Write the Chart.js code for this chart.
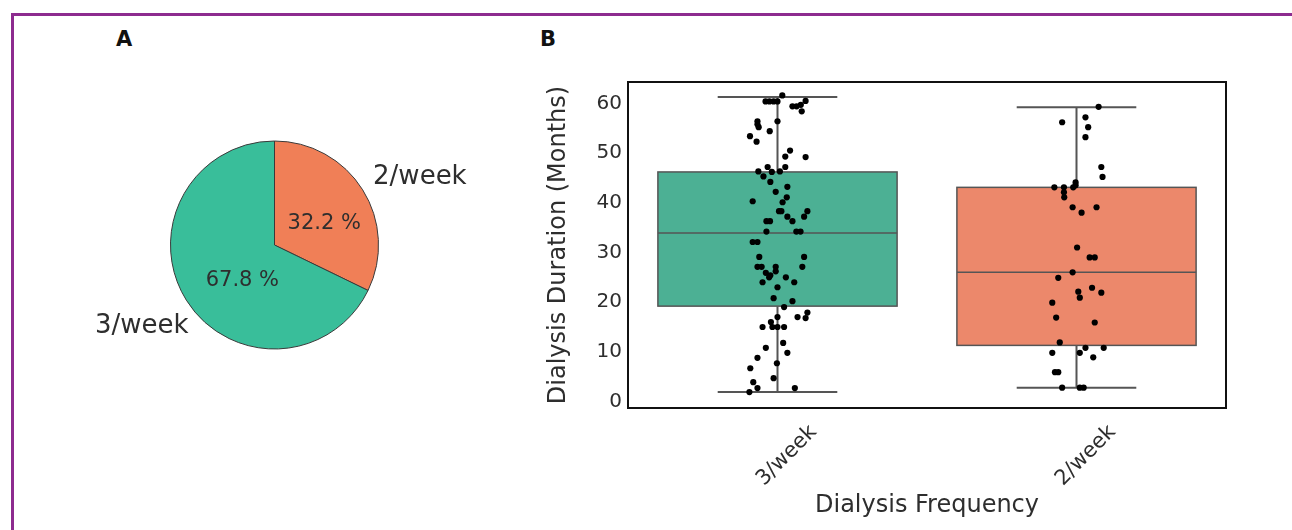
<!DOCTYPE html>
<html>
<head>
<meta charset="utf-8">
<script src="https://cdn.jsdelivr.net/npm/chart.js@4.4.1/dist/chart.umd.min.js"></script>
<style>
  html, body { margin: 0; padding: 0; background: #fff; }
  body { width: 1292px; height: 530px; position: relative; overflow: hidden; font-family: "DejaVu Sans", sans-serif; }
  .frame { position: absolute; left: 11px; top: 13px; width: 1400px; height: 700px; border-left: 3px solid #8d2b8f; border-top: 3px solid #8d2b8f; }
  .panel { position: absolute; font-weight: bold; font-size: 21px; line-height: 1; color: #111; }
  #pieWrap { position: absolute; left: 60px; top: 100px; width: 440px; height: 290px; }
  #boxWrap { position: absolute; left: 540px; top: 60px; width: 710px; height: 470px; }
</style>
</head>
<body>
<div class="frame"></div>
<div class="panel" style="left:116px; top:29px;">A</div>
<div class="panel" style="left:540px; top:29px;">B</div>
<div id="pieWrap"><canvas id="pieChart"></canvas></div>
<div id="boxWrap"><canvas id="boxChart"></canvas></div>

<script>
// --- data ---
const categories = ["3/week", "2/week"];

// pie shares (drawn clockwise from 12 o'clock)
const pieLabels = ["2/week", "3/week"];
const pieShares = [32.2, 67.8];

// box statistics per category (months)
const boxQ1 = [19.2, 11.3];
const boxMedian = [33.9, 26.0];
const boxQ3 = [46.2, 43.1];
const whiskerLow = [1.9, 2.8];
const whiskerHigh = [61.3, 59.2];

// individual patients: duration and horizontal jitter (category units)
const dur3 = [61.6, 60.4, 60.4, 60.4, 60.4, 59.4, 59.4, 59.7, 60.5, 58.4,
  56.4, 55.8, 55.2, 56.4, 54.4, 53.4, 52.3, 50.5, 49.3, 49.2,
  47.2, 47.2, 46.3, 45.3, 46.2, 46.3, 44.2, 43.2, 42.2, 41.1,
  40.3, 40.1, 38.3, 38.3, 38.3, 37.2, 37.2, 36.3, 36.3, 36.3,
  34.2, 34.2, 34.2, 32.1, 32.1, 29.1, 29.1, 27.1, 27.1, 27.1,
  27.1, 25.9, 25.4, 26.2, 25.0, 25.0, 24.0, 24.0, 23.0, 20.8,
  20.2, 19.0, 17.0, 17.0, 17.9, 16.8, 15.0, 16.0, 15.0, 15.0,
  15.0, 11.8, 10.8, 9.8, 8.8, 7.7, 6.7, 4.7, 3.9, 2.7, 2.7, 1.9];
const jit3 = [0.016, -0.040, -0.027, -0.013, 0.000, 0.050, 0.064, 0.078, 0.094, 0.081,
  -0.067, -0.067, -0.063, 0.000, -0.026, -0.092, -0.070, 0.042, 0.026, 0.094,
  -0.033, 0.026, -0.064, -0.047, -0.019, 0.008, -0.024, 0.033, -0.006, 0.031,
  -0.083, 0.017, 0.005, 0.013, 0.100, 0.033, 0.089, -0.037, -0.025, 0.050,
  -0.037, 0.063, 0.077, -0.083, -0.067, -0.061, 0.089, -0.067, -0.053, -0.006,
  0.083, -0.039, -0.024, -0.006, -0.028, 0.028, -0.050, 0.056, 0.000, -0.013,
  0.050, 0.022, 0.000, 0.067, 0.100, 0.094, -0.050, -0.022, -0.017, 0.000,
  0.022, 0.019, -0.039, 0.033, -0.067, -0.002, -0.091, -0.013, -0.081, -0.067, 0.058, -0.094];

const dur2 = [59.3, 56.2, 57.2, 55.2, 53.2, 47.2, 45.2, 44.1, 43.5, 43.1,
  43.1, 42.1, 41.1, 43.1, 39.1, 38.0, 39.1, 31.0, 29.0, 29.0,
  26.0, 24.9, 22.9, 21.9, 22.1, 20.9, 19.9, 16.9, 15.9, 11.9,
  9.8, 9.8, 10.8, 10.8, 8.9, 5.9, 5.9, 2.8, 2.8, 2.8];
const jit2 = [0.074, -0.048, 0.030, 0.039, 0.030, 0.083, 0.087, -0.003, -0.003, -0.074,
  -0.042, -0.042, -0.041, -0.011, -0.013, 0.017, 0.067, 0.002, 0.044, 0.061,
  -0.013, -0.061, 0.052, 0.083, 0.006, 0.011, -0.081, -0.068, 0.061, -0.056,
  -0.081, 0.011, 0.030, 0.091, 0.056, -0.072, -0.061, -0.048, 0.011, 0.024];

const yTicks = [0, 10, 20, 30, 40, 50, 60];

// --- styles ---
const pieColors = ["#f07f57", "#39be9a"];
const boxColors = ["#4cb094", "#ec886b"];
const lineGrey = "#555555";
const textColor = "#2e2e2e";
const boxWidth = 0.8;
const capWidth = 0.4;
// label placement around the pie: angle (deg, counter-clockwise from +x) and distance (x radius)
const pctPlace = [{ a: 22.9, d: 0.52 }, { a: -132.2, d: 0.46 }];
const namePlace = [{ a: 34.5, d: 1.15, align: "left" }, { a: -136.5, d: 1.14, align: "right" }];

Chart.defaults.font.family = "'DejaVu Sans', sans-serif";
Chart.defaults.color = textColor;

document.addEventListener("DOMContentLoaded", () => {
    // ---------- A: pie ----------
    const pieText = {
        id: "pieText",
        afterDraw(chart) {
            const { ctx } = chart;
            const arcs = chart.getDatasetMeta(0).data;
            ctx.save();
            ctx.fillStyle = textColor;
            ctx.textBaseline = "middle";
            arcs.forEach((arc, i) => {
                const r = arc.outerRadius;
                const p = pctPlace[i], n = namePlace[i];
                ctx.font = "21px 'DejaVu Sans'";
                ctx.textAlign = "center";
                ctx.fillText(pieShares[i].toFixed(1) + " %",
                    arc.x + Math.cos(p.a * Math.PI / 180) * r * p.d,
                    arc.y - Math.sin(p.a * Math.PI / 180) * r * p.d);
                ctx.font = "26px 'DejaVu Sans'";
                ctx.textAlign = n.align;
                ctx.fillText(pieLabels[i],
                    arc.x + Math.cos(n.a * Math.PI / 180) * r * n.d,
                    arc.y - Math.sin(n.a * Math.PI / 180) * r * n.d);
            });
            ctx.restore();
        }
    };

    new Chart(document.getElementById("pieChart"), {
        type: "pie",
        data: {
            labels: pieLabels,
            datasets: [{
                data: pieShares,
                backgroundColor: pieColors,
                borderColor: "#3a3a3a",
                borderWidth: 1
            }]
        },
        options: {
            responsive: true,
            maintainAspectRatio: false,
            animation: false,
            layout: { padding: { left: 110, right: 121, top: 40, bottom: 40 } },
            plugins: { legend: { display: false }, tooltip: { enabled: false } }
        },
        plugins: [pieText]
    });

    // ---------- B: box + strip ----------
    const boxes = {
        id: "boxes",
        beforeDatasetsDraw(chart) {
            const { ctx, scales: { x, y } } = chart;
            ctx.save();
            categories.forEach((c, i) => {
                const cx = x.getPixelForValue(i);
                const left = x.getPixelForValue(i - boxWidth / 2);
                const right = x.getPixelForValue(i + boxWidth / 2);
                const capL = x.getPixelForValue(i - capWidth / 2);
                const capR = x.getPixelForValue(i + capWidth / 2);
                const top = y.getPixelForValue(boxQ3[i]);
                const bot = y.getPixelForValue(boxQ1[i]);

                ctx.strokeStyle = lineGrey;
                ctx.lineWidth = 2;
                ctx.beginPath();
                ctx.moveTo(cx, y.getPixelForValue(whiskerHigh[i]));
                ctx.lineTo(cx, top);
                ctx.moveTo(cx, bot);
                ctx.lineTo(cx, y.getPixelForValue(whiskerLow[i]));
                ctx.moveTo(capL, y.getPixelForValue(whiskerHigh[i]));
                ctx.lineTo(capR, y.getPixelForValue(whiskerHigh[i]));
                ctx.moveTo(capL, y.getPixelForValue(whiskerLow[i]));
                ctx.lineTo(capR, y.getPixelForValue(whiskerLow[i]));
                ctx.stroke();

                ctx.fillStyle = boxColors[i];
                ctx.fillRect(left, top, right - left, bot - top);
                ctx.lineWidth = 1.5;
                ctx.strokeRect(left, top, right - left, bot - top);

                const m = y.getPixelForValue(boxMedian[i]);
                ctx.beginPath();
                ctx.moveTo(left, m);
                ctx.lineTo(right, m);
                ctx.stroke();
            });
            ctx.restore();
        },
        afterDraw(chart) {
            const { ctx, chartArea: a } = chart;
            ctx.save();
            ctx.strokeStyle = "#111";
            ctx.lineWidth = 2;
            ctx.strokeRect(a.left, a.top, a.right - a.left, a.bottom - a.top);
            ctx.restore();
        }
    };

    const strip = (dur, jit, idx) => dur.map((v, k) => ({ x: idx + jit[k], y: v }));

    new Chart(document.getElementById("boxChart"), {
        type: "scatter",
        data: {
            datasets: [
                { data: strip(dur3, jit3, 0), backgroundColor: "#000", borderColor: "#000", pointRadius: 3.1, borderWidth: 0 },
                { data: strip(dur2, jit2, 1), backgroundColor: "#000", borderColor: "#000", pointRadius: 3.1, borderWidth: 0 }
            ]
        },
        options: {
            responsive: true,
            maintainAspectRatio: false,
            animation: false,
            layout: { padding: { left: 0, right: 24, top: 22, bottom: 6 } },
            plugins: { legend: { display: false }, tooltip: { enabled: false } },
            scales: {
                x: {
                    type: "linear",
                    min: -0.5,
                    max: 1.5,
                    afterBuildTicks: (s) => { s.ticks = categories.map((c, i) => ({ value: i })); },
                    afterFit: (s) => { s.height = 116; },
                    grid: { display: false, drawTicks: false },
                    border: { display: false },
                    ticks: {
                        callback: (v) => categories[v],
                        minRotation: 45,
                        maxRotation: 45,
                        labelOffset: 36,
                        padding: 12,
                        font: { size: 21 },
                        color: textColor
                    },
                    title: {
                        display: true,
                        text: "Dialysis Frequency",
                        font: { size: 24 },
                        color: textColor,
                        padding: { top: 4, bottom: 4 }
                    }
                },
                y: {
                    min: -1.3,
                    max: 64.3,
                    afterBuildTicks: (s) => { s.ticks = yTicks.map(v => ({ value: v })); },
                    afterFit: (s) => { s.width = 88; },
                    grid: { display: false, drawTicks: false },
                    border: { display: false },
                    ticks: { padding: 6, font: { size: 20 }, color: textColor },
                    title: {
                        display: true,
                        text: "Dialysis Duration (Months)",
                        font: { size: 24 },
                        color: textColor,
                        padding: { top: 4, bottom: 4 }
                    }
                }
            }
        },
        plugins: [boxes]
    });
});
</script>
</body>
</html>
